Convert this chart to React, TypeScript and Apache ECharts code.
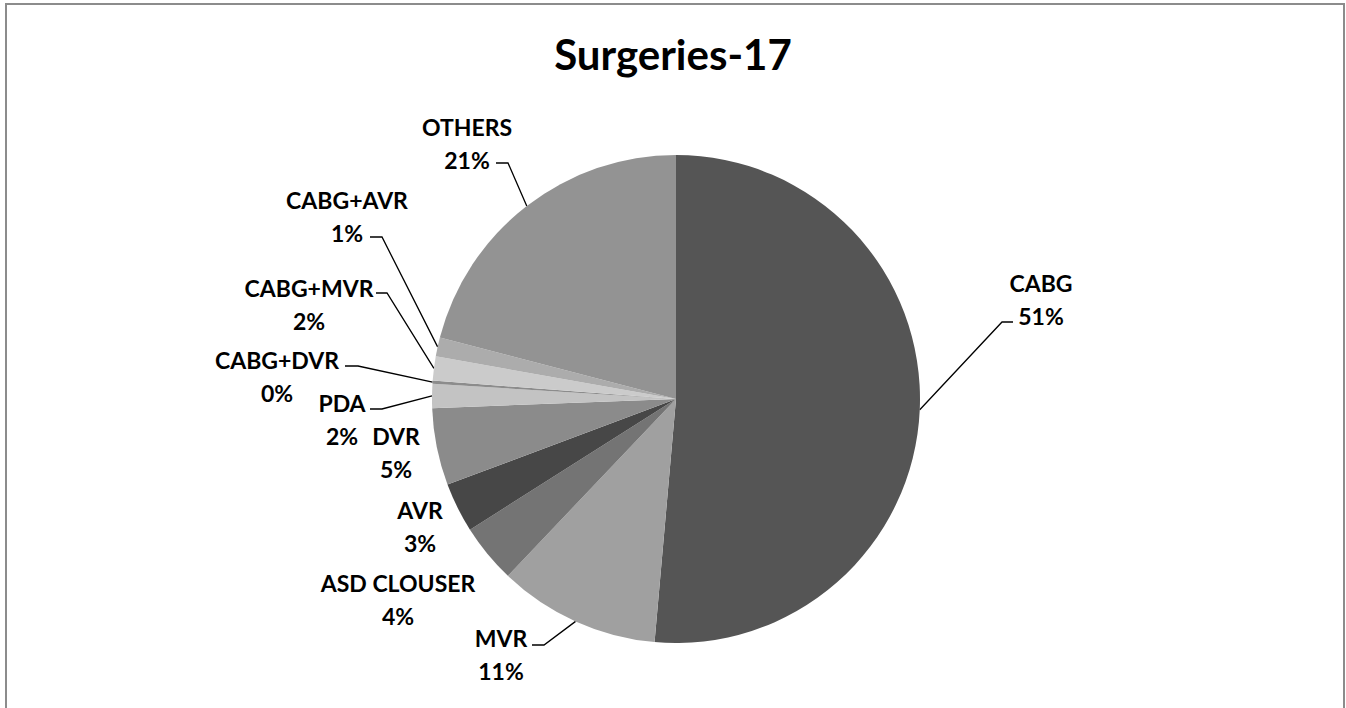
import React, { useEffect, useRef } from "react";
import * as echarts from "echarts";

const titleText = "Surgeries-17";
const categories = [
  "CABG",
  "MVR",
  "ASD CLOUSER",
  "AVR",
  "DVR",
  "PDA",
  "CABG+DVR",
  "CABG+MVR",
  "CABG+AVR",
  "OTHERS",
];
const values = [51.4, 10.7, 3.9, 3.3, 5.1, 1.6, 0.2, 1.6, 1.25, 20.95];
const sliceColors = [
  "#555555",
  "#a0a0a0",
  "#747474",
  "#474747",
  "#8b8b8b",
  "#c3c3c3",
  "#8c8c8c",
  "#cbcbcb",
  "#acacac",
  "#939393",
];
// label block centres (px)
const labelCenters: number[][] = [
  [1041, 299],
  [501, 654],
  [398, 599],
  [420, 526],
  [396, 452],
  [342, 419],
  [277, 376],
  [309, 304],
  [347, 216],
  [467, 143],
];
// leader line elbow and end points (null = no leader)
const leaders: (number[][] | null)[] = [
  [[1002, 322], [1013, 322]],
  [[544, 645], [532, 645]],
  null,
  null,
  null,
  [[382, 409], [370, 409]],
  [[358, 366], [345, 366]],
  [[387, 293], [376, 293]],
  [[382, 237], [370, 237]],
  [[508, 163], [496, 163]],
];

export default function App() {
  const ref = useRef<HTMLDivElement>(null);
  useEffect(() => {
    if (!ref.current) return;
    const chart = echarts.init(ref.current, null, { renderer: "svg" });
    const data = categories.map((name, i) => ({
      name,
      value: values[i],
      itemStyle: { color: sliceColors[i] },
      labelLine: { show: leaders[i] !== null },
    }));
    chart.setOption({
      animation: false,
      backgroundColor: "#ffffff",
      title: {
        text: titleText,
        left: "center",
        top: 28,
        textStyle: {
          fontFamily: "Lato",
          fontWeight: "bold",
          fontSize: 42,
          color: "#000000",
        },
      },
      graphic: [
        {
          type: "rect",
          shape: { x: 6, y: 4, width: 1338, height: 720 },
          style: { fill: "none", stroke: "#8c8c8c", lineWidth: 2 },
          silent: true,
        },
      ],
      series: [
        {
          type: "pie",
          center: [676, 399],
          radius: 244,
          startAngle: 90,
          clockwise: true,
          avoidLabelOverlap: false,
          data,
          itemStyle: { borderWidth: 0 },
          label: {
            show: true,
            position: "outside",
            formatter: (p: any) => `${p.name}\n${Math.round(p.percent)}%`,
            fontFamily: "Lato",
            fontWeight: "bold",
            fontSize: 23,
            lineHeight: 33,
            color: "#000000",
            align: "center",
          },
          labelLine: {
            show: true,
            length: 10,
            length2: 10,
            smooth: false,
            lineStyle: { color: "#000000", width: 1.3 },
          },
          labelLayout: (p: any) => {
            const i = p.dataIndex;
            const [x, y] = labelCenters[i];
            const res: any = { x, y, align: "center", verticalAlign: "middle" };
            const ld = leaders[i];
            if (ld && p.labelLinePoints) {
              res.labelLinePoints = [p.labelLinePoints[0], ld[0], ld[1]];
            }
            return res;
          },
          emphasis: { disabled: true },
        },
      ],
    });
    return () => chart.dispose();
  }, []);
  return (
    <div
      ref={ref}
      style={{ position: "absolute", left: 0, top: 0, width: 1346, height: 708 }}
    />
  );
}
